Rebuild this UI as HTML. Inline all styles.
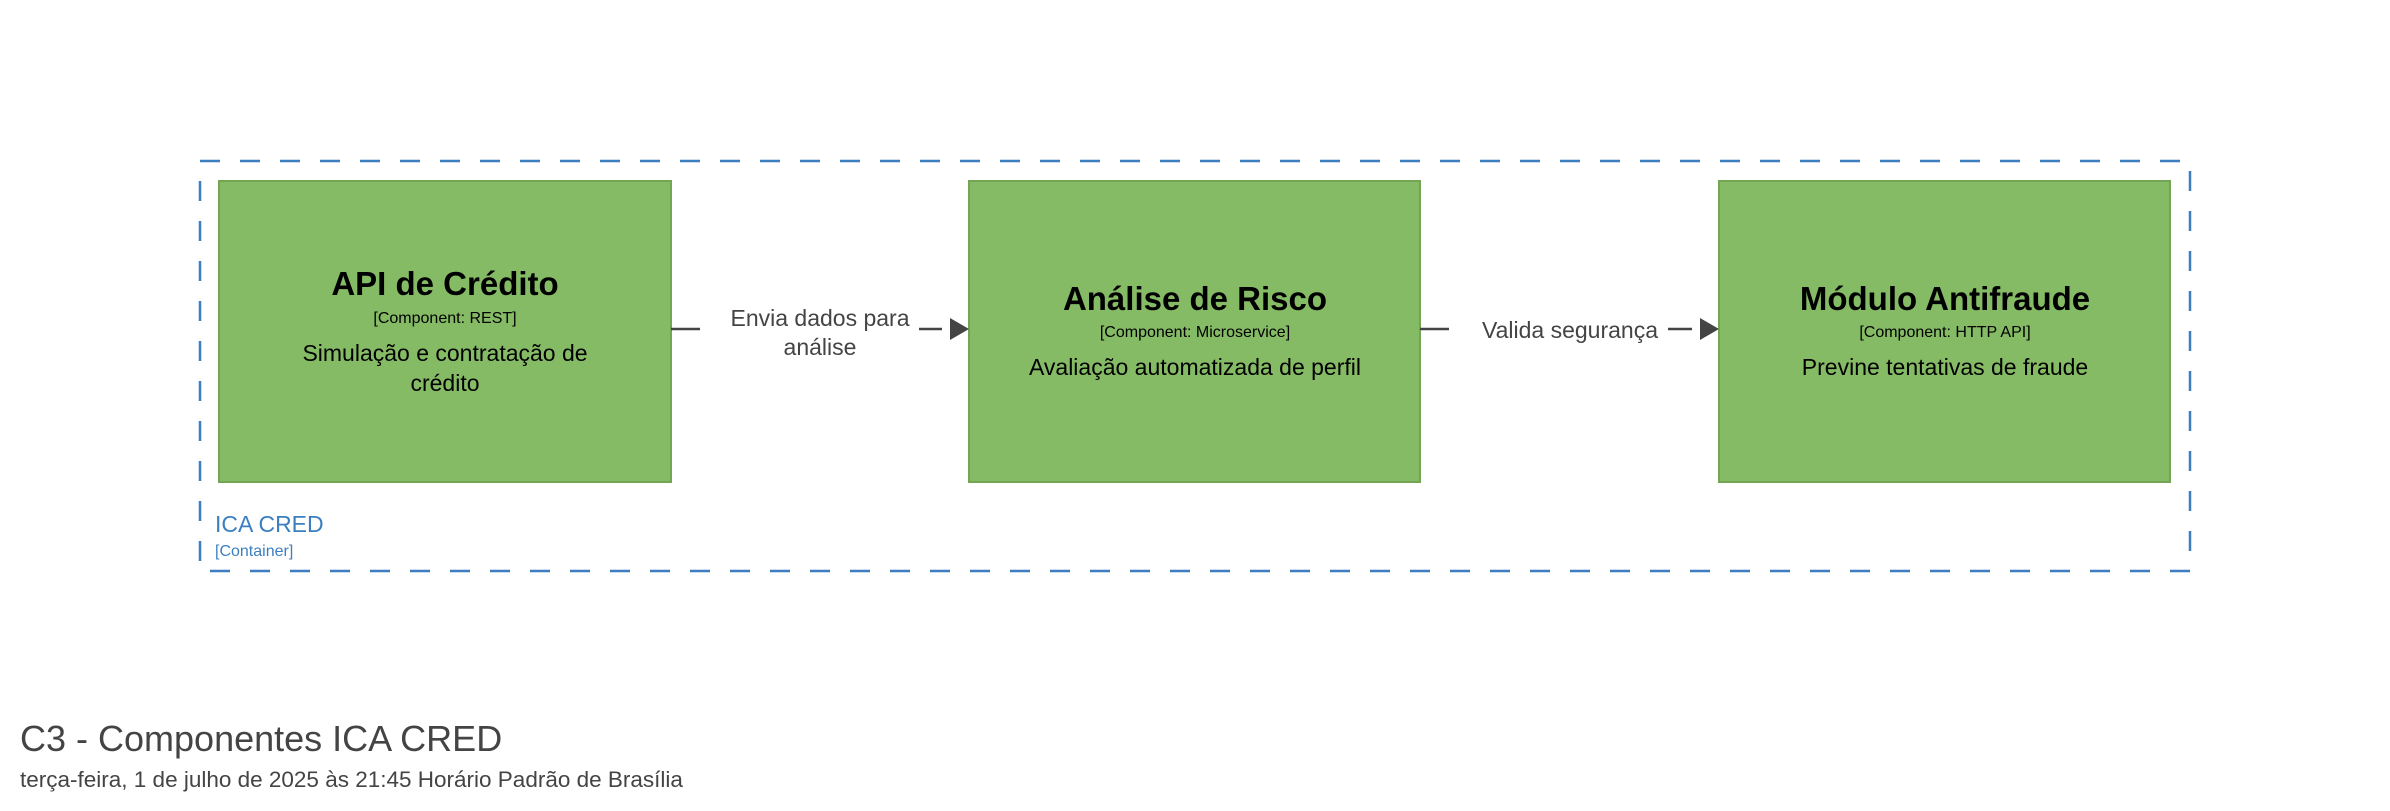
<!DOCTYPE html>
<html><head><meta charset="utf-8"><style>
body{margin:0;background:#fff;width:2390px;height:811px;overflow:hidden;font-family:"Liberation Sans",sans-serif}
svg{position:absolute;left:0;top:0}
</style></head><body>
<svg width="2390" height="811" viewBox="0 0 2390 811" font-family="Liberation Sans, sans-serif">
<rect x="200" y="161" width="1990" height="410" fill="none" stroke="#3c7fc0" stroke-width="2.5" stroke-dasharray="20 20"/>
<g fill="#85bb65" stroke="#73a555" stroke-width="2">
<rect x="219" y="181" width="452" height="301"/>
<rect x="969" y="181" width="451" height="301"/>
<rect x="1719" y="181" width="451" height="301"/>
</g>
<g text-anchor="middle" fill="#000">
<text x="445" y="295" font-size="33" font-weight="bold">API de Crédito</text>
<text x="445" y="323" font-size="16">[Component: REST]</text>
<text x="445" y="361" font-size="23">Simulação e contratação de</text>
<text x="445" y="391" font-size="23">crédito</text>
<text x="1195" y="310" font-size="33" font-weight="bold">Análise de Risco</text>
<text x="1195" y="337" font-size="16">[Component: Microservice]</text>
<text x="1195" y="375" font-size="23">Avaliação automatizada de perfil</text>
<text x="1945" y="310" font-size="33" font-weight="bold">Módulo Antifraude</text>
<text x="1945" y="337" font-size="16">[Component: HTTP API]</text>
<text x="1945" y="375" font-size="23">Previne tentativas de fraude</text>
</g>
<g stroke="#444" stroke-width="2.5">
<line x1="671" y1="329" x2="700" y2="329"/>
<line x1="919" y1="329" x2="942" y2="329"/>
<line x1="1420" y1="329" x2="1449" y2="329"/>
<line x1="1668" y1="329" x2="1692" y2="329"/>
</g>
<g fill="#444">
<polygon points="950,318 969,329 950,340"/>
<polygon points="1700,318 1719,329 1700,340"/>
</g>
<g text-anchor="middle" fill="#444" font-size="23">
<text x="820" y="326">Envia dados para</text>
<text x="820" y="355">análise</text>
<text x="1570" y="338">Valida segurança</text>
</g>
<text x="215" y="532" font-size="23" fill="#3c7fc0">ICA CRED</text>
<text x="215" y="556" font-size="16" fill="#3c7fc0">[Container]</text>
<text x="20" y="751" font-size="36" fill="#444">C3 - Componentes ICA CRED</text>
<text x="20" y="787" font-size="22.5" fill="#444">terça-feira, 1 de julho de 2025 às 21:45 Horário Padrão de Brasília</text>
</svg>
</body></html>
